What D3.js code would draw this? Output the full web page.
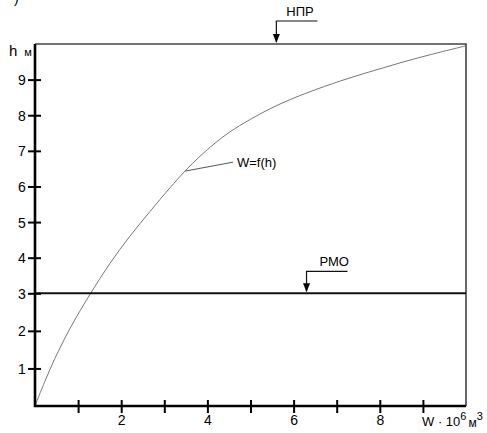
<!DOCTYPE html>
<html>
<head>
<meta charset="utf-8">
<script src="https://cdn.jsdelivr.net/npm/d3@7"></script>
<style>
  html, body { margin: 0; padding: 0; background: #fff; }
  #container { width: 487px; height: 433px; }
</style>
</head>
<body>
<div id="container"></div>
<script>
// curve W = f(h)
let volume = [0, 0.23, 0.46, 0.81, 1.28, 1.74, 2.2, 2.67, 3.13, 3.48, 3.83, 4.18, 4.52, 4.99, 5.45, 5.92, 6.38, 7.08, 7.77, 8.47, 9.17, 10];
let level  = [0, 0.66, 1.26, 2.06, 2.98, 3.84, 4.6, 5.3, 5.96, 6.43, 6.85, 7.22, 7.53, 7.88, 8.18, 8.44, 8.66, 8.96, 9.22, 9.47, 9.7, 9.95];

let xTicks = [1, 2, 3, 4, 5, 6, 7, 8, 9];
let xLabels = [2, 4, 6, 8];
let yTicks = [1, 2, 3, 4, 5, 6, 7, 8, 9];

let levelNPR = 10;   // НПР
let levelRMO = 3;    // РМО
let noteNPR = 5.6;   // where the arrow points, in W
let noteRMO = 6.3;
let noteCurve = 3.48;

let w = 487,
    h = 433;

let viz = d3.select('#container')
    .append('svg')
      .attr('width', w)
      .attr('height', h)
      .style('background', '#fff')
      .attr('font-family', 'Liberation Sans, Arial, sans-serif');

let x = d3.scaleLinear().domain([0, 10]).range([35, 466]);
// hand drawn axis: the lower part is a bit stretched
let y = d3.scaleLinear().domain([0, 3, 10]).range([406, 293.3, 44]);

function main() {
    // thin frame: top and right
    viz.append('path')
        .attr('d', 'M' + x(0) + ',' + y(10) + 'H' + x(10) + 'V' + y(0))
        .attr('fill', 'none')
        .attr('stroke', '#444')
        .attr('stroke-width', 1.6);

    // curve
    let line = d3.line()
        .x((d, i) => x(volume[i]))
        .y(d => y(d))
        .curve(d3.curveCatmullRom.alpha(0.5));
    viz.append('path')
        .attr('d', line(level))
        .attr('fill', 'none')
        .attr('stroke', '#777')
        .attr('stroke-width', 1);

    // РМО level
    viz.append('line')
        .attr('x1', x(0)).attr('x2', x(10))
        .attr('y1', y(levelRMO)).attr('y2', y(levelRMO))
        .attr('stroke', '#111')
        .attr('stroke-width', 2);

    // axes
    let xAxis = d3.axisBottom(x).tickValues(xTicks).tickSize(0).tickFormat('');
    let gx = viz.append('g')
        .attr('transform', 'translate(0,' + y(0) + ')')
        .call(xAxis);
    gx.select('.domain').remove();
    gx.selectAll('.tick').append('line')
        .attr('y1', -6).attr('y2', 7)
        .attr('stroke', '#000').attr('stroke-width', 2);
    gx.selectAll('.tick').filter(d => xLabels.indexOf(d) >= 0).append('text')
        .attr('y', 19)
        .attr('fill', '#000')
        .attr('font-size', 14)
        .attr('text-anchor', 'middle')
        .text(d => d);

    let yAxis = d3.axisLeft(y).tickValues(yTicks).tickSize(0).tickFormat('');
    let gy = viz.append('g')
        .attr('transform', 'translate(' + x(0) + ',0)')
        .call(yAxis);
    gy.select('.domain').remove();
    gy.selectAll('.tick').append('line')
        .attr('x1', -7).attr('x2', 6)
        .attr('stroke', '#000').attr('stroke-width', 2);
    gy.selectAll('.tick').append('text')
        .attr('x', -13)
        .attr('dy', '0.36em')
        .attr('fill', '#000')
        .attr('font-size', 14)
        .attr('text-anchor', 'middle')
        .text(d => d);

    viz.append('path')
        .attr('d', 'M' + x(0) + ',' + y(10) + 'V' + y(0) + 'H' + x(10))
        .attr('fill', 'none')
        .attr('stroke', '#000')
        .attr('stroke-width', 2.6);

    // axis names
    let hName = viz.append('text')
        .attr('x', 9).attr('y', 56)
        .attr('font-size', 15);
    hName.append('tspan').text('h');
    hName.append('tspan').attr('dx', 7).attr('font-size', 11).text('м');

    let wName = viz.append('text')
        .attr('x', 422).attr('y', 426)
        .attr('font-size', 13);
    wName.append('tspan').text('W · 10');
    wName.append('tspan').attr('dy', -6).attr('font-size', 11).text('6');
    wName.append('tspan').attr('dy', 7).attr('dx', 2).attr('font-size', 12).text('м');
    wName.append('tspan').attr('dy', -7).attr('font-size', 11).text('3');

    // notes with arrows
    function note(wx, hy, label, len, up) {
        let ax = x(wx), ay = y(hy);
        let g = viz.append('g');
        g.append('path')
            .attr('d', 'M' + (ax + 41) + ',' + (ay - up) + 'H' + ax + 'V' + (ay - 2))
            .attr('fill', 'none')
            .attr('stroke', '#111')
            .attr('stroke-width', 1.2);
        g.append('path')
            .attr('d', 'M' + (ax - 3.5) + ',' + (ay - 10) + 'L' + (ax + 3.5) + ',' + (ay - 10) + 'L' + ax + ',' + (ay - 1) + 'Z')
            .attr('fill', '#000');
        g.append('text')
            .attr('x', ax + len).attr('y', ay - up - 5)
            .attr('font-size', 13)
            .text(label);
    }
    note(noteNPR, levelNPR, 'НПР', 10, 23);
    note(noteRMO, levelRMO, 'РМО', 13, 22);

    // curve label
    let cx = x(noteCurve), cy = y(6.43);
    viz.append('line')
        .attr('x1', cx).attr('y1', cy)
        .attr('x2', cx + 48).attr('y2', cy - 9)
        .attr('stroke', '#555')
        .attr('stroke-width', 1);
    viz.append('text')
        .attr('x', cx + 52).attr('y', cy - 4)
        .attr('font-size', 13)
        .text('W=f(h)');

    // remains of the figure letter, cut by the frame
    viz.append('text')
        .attr('x', 14).attr('y', 3)
        .attr('font-size', 14)
        .text(')');
}

main();
</script>
</body>
</html>
